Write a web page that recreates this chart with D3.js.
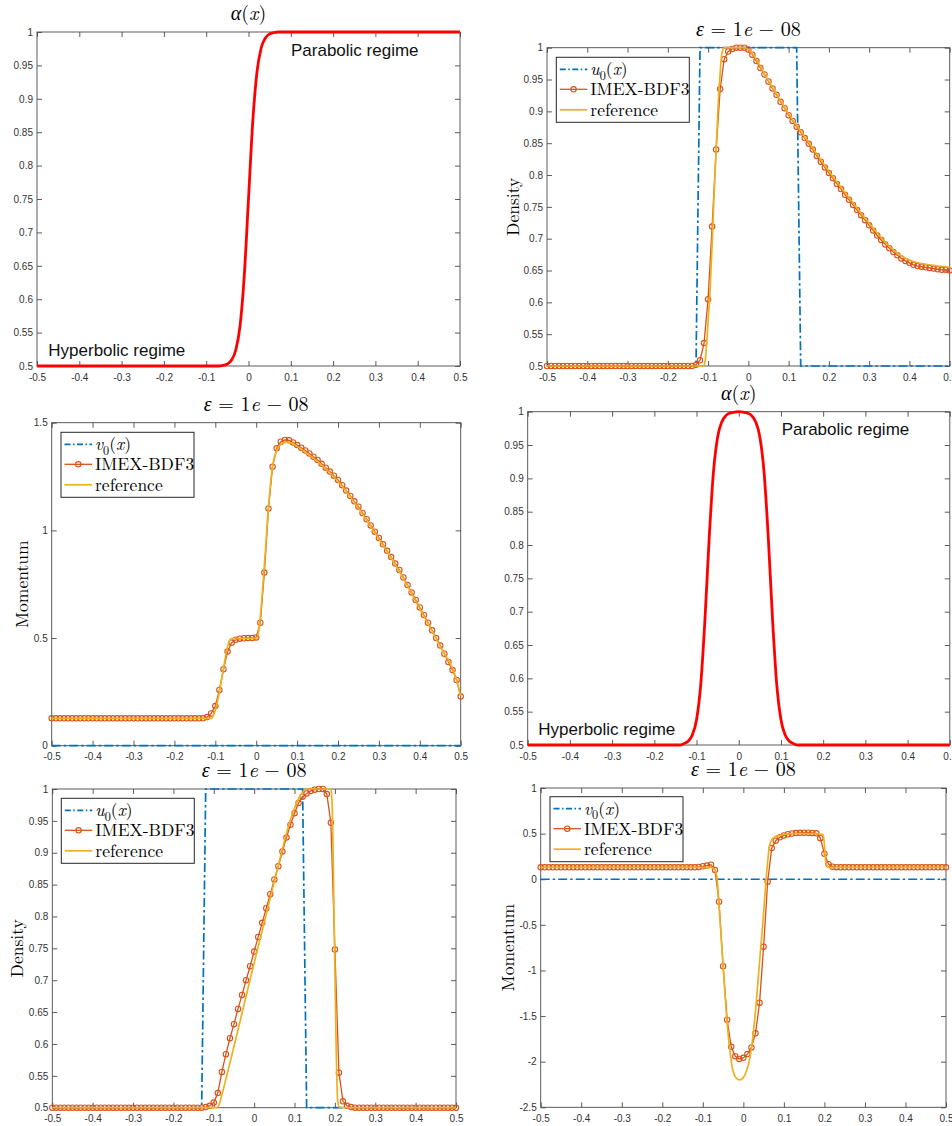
<!DOCTYPE html>
<html><head><meta charset="utf-8">
<script src="https://cdn.jsdelivr.net/npm/d3@7"></script>
<style>body{margin:0;background:#fff}</style>
</head><body><svg id="c" width="952" height="1126" xmlns="http://www.w3.org/2000/svg"></svg>
<script>
// ---------------- DATA ----------------
const xGrid = [
 -0.50,-0.49,-0.48,-0.47,-0.46,-0.45,-0.44,-0.43,-0.42,-0.41,
 -0.40,-0.39,-0.38,-0.37,-0.36,-0.35,-0.34,-0.33,-0.32,-0.31,
 -0.30,-0.29,-0.28,-0.27,-0.26,-0.25,-0.24,-0.23,-0.22,-0.21,
 -0.20,-0.19,-0.18,-0.17,-0.16,-0.15,-0.14,-0.13,-0.12,-0.11,
 -0.10,-0.09,-0.08,-0.07,-0.06,-0.05,-0.04,-0.03,-0.02,-0.01,
  0.00, 0.01, 0.02, 0.03, 0.04, 0.05, 0.06, 0.07, 0.08, 0.09,
  0.10, 0.11, 0.12, 0.13, 0.14, 0.15, 0.16, 0.17, 0.18, 0.19,
  0.20, 0.21, 0.22, 0.23, 0.24, 0.25, 0.26, 0.27, 0.28, 0.29,
  0.30, 0.31, 0.32, 0.33, 0.34, 0.35, 0.36, 0.37, 0.38, 0.39,
  0.40, 0.41, 0.42, 0.43, 0.44, 0.45, 0.46, 0.47, 0.48, 0.49,
  0.50];

// Panel (1,1): alpha(x), step
const alphaStepX = [-0.5,-0.07,-0.06,-0.05,-0.04,-0.03,-0.02,-0.01,0,0.01,0.02,0.03,0.04,0.05,0.06,0.07,0.5];
const alphaStepY = [0.5,0.5,0.501,0.503,0.509,0.524,0.56,0.635,0.75,0.865,0.94,0.976,0.991,0.997,0.999,1,1];

// Panel (2,2): alpha(x), bump
const alphaBumpX = [-0.5,-0.14,-0.13,-0.12,-0.11,-0.10,-0.09,-0.08,-0.07,-0.06,-0.05,-0.04,-0.03,-0.02,-0.01,0,
                    0.01,0.02,0.03,0.04,0.05,0.06,0.07,0.08,0.09,0.10,0.11,0.12,0.13,0.14,0.5];
const alphaBumpY = [0.5,0.5,0.502,0.5055,0.515,0.538,0.591,0.689,0.811,0.909,0.962,0.985,0.9945,0.998,0.9995,1,
                    0.9995,0.998,0.9945,0.985,0.962,0.909,0.811,0.689,0.591,0.538,0.515,0.5055,0.502,0.5,0.5];

// Panel (1,2): density, case A
const u0AX = [-0.5,-0.13,-0.12,0.12,0.13,0.5];
const u0AY = [0.5,0.5,1,1,0.5,0.5];
const rhoA = [
 0.5,0.5,0.5,0.5,0.5,0.5,0.5,0.5,0.5,0.5,
 0.5,0.5,0.5,0.5,0.5,0.5,0.5,0.5,0.5,0.5,
 0.5,0.5,0.5,0.5,0.5,0.5,0.5,0.5,0.5,0.5,
 0.5,0.5,0.5,0.5,0.5,0.5,0.5,0.502,0.509,0.536,
 0.605,0.719,0.840,0.935,0.982,0.994,0.998,1.000,1.000,1.000,
 0.997,0.989,0.979,0.968,0.958,0.947,0.936,0.926,0.915,0.905,
 0.894,0.885,0.876,0.867,0.858,0.849,0.840,0.830,0.821,0.812,
 0.803,0.795,0.786,0.778,0.769,0.761,0.753,0.745,0.737,0.729,
 0.721,0.713,0.705,0.698,0.691,0.685,0.679,0.674,0.669,0.665,
 0.662,0.659,0.657,0.656,0.655,0.654,0.653,0.652,0.651,0.651,
 0.650];
const rhoARefX = [-0.5,-0.112,-0.108,-0.104,-0.1,-0.095,-0.09,-0.085,-0.08,-0.075,-0.07,-0.066,-0.06,-0.01,0,0.05,0.1,0.15,0.2,0.25,0.3,0.35,0.4,0.45,0.5];
const rhoARefY = [0.5,0.5,0.505,0.53,0.57,0.62,0.69,0.77,0.84,0.91,0.96,0.99,1.0,1.0,0.997,0.948,0.896,0.851,0.806,0.764,0.724,0.688,0.666,0.659,0.655];

// Panel (2,1): momentum, case A
const v0AX = [-0.5,0.5];
const v0AY = [0,0];
const momA = [
 0.127,0.127,0.127,0.127,0.127,0.127,0.127,0.127,0.127,0.127,
 0.127,0.127,0.127,0.127,0.127,0.127,0.127,0.127,0.127,0.127,
 0.127,0.127,0.127,0.127,0.127,0.127,0.127,0.127,0.127,0.127,
 0.127,0.127,0.127,0.127,0.127,0.127,0.127,0.127,0.133,0.150,
 0.184,0.259,0.355,0.437,0.478,0.492,0.497,0.499,0.500,0.500,
 0.503,0.571,0.804,1.102,1.296,1.381,1.412,1.420,1.418,1.408,
 1.396,1.384,1.371,1.357,1.342,1.327,1.309,1.291,1.273,1.254,
 1.234,1.210,1.185,1.160,1.135,1.110,1.081,1.052,1.023,0.994,
 0.965,0.935,0.905,0.876,0.846,0.816,0.781,0.746,0.712,0.677,
 0.642,0.607,0.571,0.536,0.500,0.465,0.427,0.389,0.351,0.305,
 0.228];
const momARefX = [-0.5,-0.11,-0.105,-0.1,-0.09,-0.08,-0.07,-0.065,-0.06,0,0.005,0.01,0.02,0.03,0.04,0.05,0.06,0.07,0.08,0.1,0.15,0.2,0.25,0.3,0.35,0.4,0.45,0.49,0.5];
const momARefY = [0.127,0.127,0.14,0.165,0.25,0.36,0.46,0.49,0.497,0.5,0.52,0.6,0.84,1.11,1.3,1.37,1.40,1.41,1.41,1.39,1.32,1.228,1.104,0.96,0.81,0.637,0.46,0.305,0.23];

// Panel (3,1): density, case B
const u0BX = [-0.5,-0.13,-0.12,0.12,0.13,0.5];
const u0BY = [0.5,0.5,1,1,0.5,0.5];
const rhoB = [
 0.5,0.5,0.5,0.5,0.5,0.5,0.5,0.5,0.5,0.5,
 0.5,0.5,0.5,0.5,0.5,0.5,0.5,0.5,0.5,0.5,
 0.5,0.5,0.5,0.5,0.5,0.5,0.5,0.5,0.5,0.5,
 0.5,0.5,0.5,0.5,0.5,0.5,0.5,0.5,0.501,0.503,
 0.508,0.523,0.556,0.584,0.609,0.631,0.655,0.677,0.700,0.722,
 0.745,0.768,0.790,0.813,0.835,0.858,0.879,0.902,0.924,0.944,
 0.962,0.978,0.988,0.993,0.997,0.999,1.000,1.000,0.992,0.947,
 0.748,0.555,0.510,0.503,0.501,0.5,0.5,0.5,0.5,0.5,
 0.5,0.5,0.5,0.5,0.5,0.5,0.5,0.5,0.5,0.5,
 0.5,0.5,0.5,0.5,0.5,0.5,0.5,0.5,0.5,0.5,
 0.5];
const rhoBRefX = [-0.5,-0.092,-0.085,-0.08,0,0.05,0.08,0.09,0.1,0.11,0.12,0.13,0.19,0.193,0.198,0.203,0.207,0.212,0.5];
const rhoBRefY = [0.5,0.5,0.508,0.52,0.727,0.855,0.93,0.952,0.97,0.985,0.995,1.0,1.0,0.98,0.8,0.6,0.51,0.5,0.5];

// Panel (3,2): momentum, case B
const v0BX = [-0.5,0.5];
const v0BY = [0,0];
const momB = [
 0.130,0.130,0.130,0.130,0.130,0.130,0.130,0.130,0.130,0.130,
 0.130,0.130,0.130,0.130,0.130,0.130,0.130,0.130,0.130,0.130,
 0.130,0.130,0.130,0.130,0.130,0.130,0.130,0.130,0.130,0.130,
 0.130,0.130,0.130,0.130,0.130,0.130,0.130,0.130,0.130,0.135,
 0.142,0.150,0.160,0.100,-0.246,-0.953,-1.540,-1.837,-1.940,-1.970,
 -1.958,-1.917,-1.844,-1.689,-1.353,-0.739,-0.027,0.342,0.423,0.459,
 0.480,0.493,0.501,0.506,0.509,0.510,0.510,0.508,0.503,0.450,
 0.280,0.165,0.138,0.132,0.130,0.130,0.130,0.130,0.130,0.130,
 0.130,0.130,0.130,0.130,0.130,0.130,0.130,0.130,0.130,0.130,
 0.130,0.130,0.130,0.130,0.130,0.130,0.130,0.130,0.130,0.130,
 0.130];
const momBRefX = [-0.5,-0.08,-0.072,-0.066,-0.058,-0.049,-0.041,-0.033,-0.025,-0.017,-0.009,-0.001,0.007,0.016,0.024,0.032,0.04,0.049,0.057,0.065,0.073,0.08,0.1,0.12,0.18,0.192,0.197,0.204,0.21,0.5];
const momBRefY = [0.13,0.13,0.11,0.046,-0.43,-1.01,-1.52,-1.89,-2.11,-2.18,-2.2,-2.18,-2.11,-1.963,-1.707,-1.342,-0.904,-0.428,0.046,0.375,0.449,0.47,0.49,0.5,0.5,0.495,0.485,0.175,0.13,0.13];

// tick values
const xTicks = [-0.5,-0.4,-0.3,-0.2,-0.1,0,0.1,0.2,0.3,0.4,0.5];
const yTicksDensity = [0.5,0.55,0.6,0.65,0.7,0.75,0.8,0.85,0.9,0.95,1];
const yTicksMomA = [0,0.5,1,1.5];
const yTicksMomB = [-2.5,-2,-1.5,-1,-0.5,0,0.5,1];

// ---------------- STYLE ----------------
const SERIF = "'Latin Modern Roman','CMU Serif','Liberation Serif','Times New Roman',serif";
const SANS = "'Liberation Sans',Arial,Helvetica,sans-serif";
const C_BLUE = "#0072BD", C_RED = "#D95319", C_YEL = "#EDB120", C_ALPHA = "#FF0000";
const AX = "#4a4a4a";

const svg = d3.select("#c");
const fmt = v => String(+v.toFixed(2));

function mathText(sel, parts, size) {
  let shifted = 0;
  parts.forEach(p => {
    const t = sel.append("tspan").text(p.t);
    if (p.i) t.attr("font-style", "italic");
    if (p.sub) {
      t.attr("dy", size * 0.25).attr("font-size", size * 0.7);
      shifted = size * 0.25;
    } else if (shifted) {
      t.attr("dy", -shifted);
      shifted = 0;
    }
  });
}

function panel(p) {
  const x = d3.scaleLinear().domain([-0.5, 0.5]).range([p.l, p.r]);
  const y = d3.scaleLinear().domain(p.yDom).range([p.b, p.t]);
  const g = svg.append("g");

  // axes frame
  g.append("rect").attr("x", p.l).attr("y", p.t).attr("width", p.r - p.l).attr("height", p.b - p.t)
    .attr("fill", "none").attr("stroke", AX).attr("stroke-width", 0.9);

  const styleAxis = a => {
    a.select(".domain").remove();
    a.selectAll(".tick line").attr("stroke", AX).attr("stroke-width", 0.9);
    a.selectAll(".tick text").attr("fill", "#333").attr("font-family", SANS).attr("font-size", 10);
  };
  g.append("g").attr("transform", `translate(0,${p.b})`)
    .call(d3.axisBottom(x).tickValues(xTicks).tickSizeInner(-5).tickSizeOuter(0).tickPadding(7.5).tickFormat(fmt)).call(styleAxis);
  g.append("g").attr("transform", `translate(0,${p.t})`)
    .call(d3.axisTop(x).tickValues(xTicks).tickSizeInner(-5).tickSizeOuter(0).tickFormat("")).call(styleAxis);
  g.append("g").attr("transform", `translate(${p.l},0)`)
    .call(d3.axisLeft(y).tickValues(p.yTicks).tickSizeInner(-5).tickSizeOuter(0).tickPadding(4).tickFormat(fmt)).call(styleAxis);
  g.append("g").attr("transform", `translate(${p.r},0)`)
    .call(d3.axisRight(y).tickValues(p.yTicks).tickSizeInner(-5).tickSizeOuter(0).tickFormat("")).call(styleAxis);
  g.selectAll("text").attr("font-family", SANS);

  // title
  const tt = g.append("text").attr("x", (p.l + p.r) / 2).attr("y", p.t - 12)
    .attr("text-anchor", "middle").attr("font-family", SERIF).attr("font-size", 20).attr("fill", "#000")
    .attr("xml:space", "preserve");
  mathText(tt, p.title, 20);

  // y label
  if (p.ylabel) {
    g.append("text").attr("transform", `translate(${p.ylx},${(p.t + p.b) / 2}) rotate(-90)`)
      .attr("text-anchor", "middle").attr("dominant-baseline", "central")
      .attr("font-family", SERIF).attr("font-size", 17.5).attr("fill", "#000").text(p.ylabel);
  }

  const lineXY = (xs, ys, curve) => d3.line().x((d, i) => x(xs[i])).y((d, i) => y(ys[i])).curve(curve || d3.curveLinear)(xs);

  if (p.alpha) {
    g.append("path").attr("d", lineXY(p.alpha[0], p.alpha[1], d3.curveMonotoneX))
      .attr("fill", "none").attr("stroke", C_ALPHA).attr("stroke-width", 2.8).attr("stroke-linejoin", "round");
    p.labels.forEach(L => g.append("text").attr("x", L.x).attr("y", L.y).attr("font-family", SANS)
      .attr("font-size", 17).attr("fill", "#111").text(L.t));
    return;
  }

  // initial condition (dash-dot)
  g.append("path").attr("d", lineXY(p.init[0], p.init[1]))
    .attr("fill", "none").attr("stroke", C_BLUE).attr("stroke-width", 1.7).attr("stroke-dasharray", "9,3,2.5,3");
  // IMEX-BDF3 line + markers
  g.append("path").attr("d", lineXY(xGrid, p.imex))
    .attr("fill", "none").attr("stroke", C_RED).attr("stroke-width", 1.3);
  g.append("g").selectAll("circle").data(p.imex).join("circle")
    .attr("cx", (d, i) => x(xGrid[i])).attr("cy", d => y(d)).attr("r", 2.7)
    .attr("fill", "none").attr("stroke", C_RED).attr("stroke-width", 1.1);
  // reference
  g.append("path").attr("d", lineXY(p.ref[0], p.ref[1], d3.curveMonotoneX))
    .attr("fill", "none").attr("stroke", C_YEL).attr("stroke-width", 1.7);

  // legend
  const L = p.leg;
  g.append("rect").attr("x", L.x0).attr("y", L.y0).attr("width", 133).attr("height", 65)
    .attr("fill", "#fff").attr("stroke", "#262626").attr("stroke-width", 1);
  const rows = [L.y0 + 12, L.y0 + 32, L.y0 + 52.5];
  const sx0 = L.x0 + 3.5, sx1 = L.x0 + 31, tx = L.x0 + 34;
  g.append("line").attr("x1", sx0).attr("x2", sx1).attr("y1", rows[0]).attr("y2", rows[0])
    .attr("stroke", C_BLUE).attr("stroke-width", 1.7).attr("stroke-dasharray", "6,2.5,1.5,2.5");
  g.append("line").attr("x1", sx0).attr("x2", sx1).attr("y1", rows[1]).attr("y2", rows[1])
    .attr("stroke", C_RED).attr("stroke-width", 1.3);
  g.append("circle").attr("cx", (sx0 + sx1) / 2).attr("cy", rows[1]).attr("r", 2.7)
    .attr("fill", "none").attr("stroke", C_RED).attr("stroke-width", 1.1);
  g.append("line").attr("x1", sx0).attr("x2", sx1).attr("y1", rows[2]).attr("y2", rows[2])
    .attr("stroke", C_YEL).attr("stroke-width", 1.7);
  const lt = (yy) => g.append("text").attr("x", tx).attr("y", yy + 6).attr("font-family", SERIF)
    .attr("font-size", 17.5).attr("fill", "#000");
  mathText(lt(rows[0]), [{t: p.initName, i: true}, {t: "0", sub: true}, {t: "("}, {t: "x", i: true}, {t: ")"}], 17.5);
  lt(rows[1]).text("IMEX-BDF3");
  lt(rows[2]).text("reference");
}

const alphaTitle = [{t: "α", i: true}, {t: "("}, {t: "x", i: true}, {t: ")"}];
const epsTitle = [{t: "ε", i: true}, {t: " = 1"}, {t: "e", i: true}, {t: " − 08"}];

panel({l: 37, r: 460, t: 32, b: 366, yDom: [0.5, 1], yTicks: yTicksDensity, title: alphaTitle,
  alpha: [alphaStepX, alphaStepY],
  labels: [{x: 291, y: 55.5, t: "Parabolic regime"}, {x: 48.3, y: 355.5, t: "Hyperbolic regime"}]});

panel({l: 547, r: 949.7, t: 47.7, b: 366, yDom: [0.5, 1], yTicks: yTicksDensity, title: epsTitle,
  ylabel: "Density", ylx: 511, init: [u0AX, u0AY], initName: "u", imex: rhoA, ref: [rhoARefX, rhoARefY],
  leg: {x0: 556.3, y0: 57.3}});

panel({l: 51.7, r: 460.7, t: 422.7, b: 745.7, yDom: [0, 1.5], yTicks: yTicksMomA, title: epsTitle,
  ylabel: "Momentum", ylx: 20, init: [v0AX, v0AY], initName: "v", imex: momA, ref: [momARefX, momARefY],
  leg: {x0: 61, y0: 432.3}});

panel({l: 527.7, r: 949.8, t: 411.7, b: 745, yDom: [0.5, 1], yTicks: yTicksDensity, title: alphaTitle,
  alpha: [alphaBumpX, alphaBumpY],
  labels: [{x: 781.7, y: 435, t: "Parabolic regime"}, {x: 538.3, y: 735, t: "Hyperbolic regime"}]});

panel({l: 52.3, r: 456, t: 789, b: 1107.7, yDom: [0.5, 1], yTicks: yTicksDensity, title: epsTitle,
  ylabel: "Density", ylx: 15.7, init: [u0BX, u0BY], initName: "u", imex: rhoB, ref: [rhoBRefX, rhoBRefY],
  leg: {x0: 61.3, y0: 798.3}});

panel({l: 540.7, r: 946, t: 788, b: 1107.3, yDom: [-2.5, 1], yTicks: yTicksMomB, title: epsTitle,
  ylabel: "Momentum", ylx: 506, init: [v0BX, v0BY], initName: "v", imex: momB, ref: [momBRefX, momBRefY],
  leg: {x0: 550, y0: 796.7}});
</script>
</body></html>
